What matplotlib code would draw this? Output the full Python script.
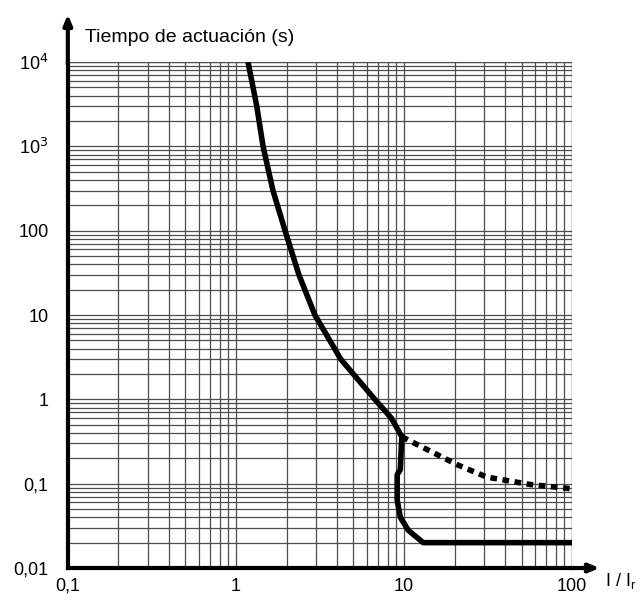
import matplotlib.pyplot as plt
from matplotlib.ticker import FixedLocator, LogLocator, NullFormatter

plt.rcParams["font.family"] = ["Liberation Sans", "DejaVu Sans"]

# curve
curve_x = [1.18, 1.33, 1.45, 1.66, 1.96, 2.37, 2.95, 4.2, 6.7, 8.4, 9.7]
curve_y = [10000, 3000, 1000, 300, 100, 30, 10, 3, 1, 0.6, 0.36]

inst_x = [9.7, 9.5, 9.1, 9.1, 9.5, 10.6, 13.0, 100]
inst_y = [0.36, 0.147, 0.128, 0.064, 0.040, 0.028, 0.020, 0.020]

dash_x = [9.7, 20.7, 31, 56, 100]
dash_y = [0.36, 0.168, 0.12, 0.098, 0.087]

x_ticks = [0.1, 1, 10, 100]
x_labels = ["0,1", "1", "10", "100"]
y_ticks = [0.01, 0.1, 1, 10, 100, 1000, 10000]
y_labels = ["0,01", "0,1", "1", "10", "100", "10$^{3}$", "10$^{4}$"]

fig = plt.figure(figsize=(6.4, 6.03), dpi=100)
ax = fig.add_axes([0.106, 0.058, 0.788, 0.839])
ax.set_xscale("log")
ax.set_yscale("log")
ax.set_xlim(0.1, 100)
ax.set_ylim(0.01, 10000)

ax.xaxis.set_major_locator(FixedLocator(x_ticks))
ax.yaxis.set_major_locator(FixedLocator(y_ticks))
ax.xaxis.set_minor_locator(LogLocator(base=10, subs=range(2, 10), numticks=20))
ax.yaxis.set_minor_locator(LogLocator(base=10, subs=range(2, 10), numticks=20))
ax.xaxis.set_minor_formatter(NullFormatter())
ax.yaxis.set_minor_formatter(NullFormatter())
ax.set_xticklabels(x_labels, fontsize=13)
ax.set_yticklabels(y_labels, fontsize=13)
ax.tick_params(which="both", length=0)
ax.tick_params(axis="x", pad=7)
ax.tick_params(axis="y", pad=14)

ax.grid(True, which="both", color="#4d4d4d", linewidth=0.9)
ax.set_axisbelow(True)

for side in ["top", "right"]:
    ax.spines[side].set_visible(False)
for side in ["left", "bottom"]:
    ax.spines[side].set_linewidth(3)

# right / top grid edge
ax.axvline(100, color="#4d4d4d", linewidth=0.9)
ax.axhline(10000, color="#4d4d4d", linewidth=0.9)

ax.plot(curve_x, curve_y, color="black", linewidth=4, solid_capstyle="butt")
ax.plot(inst_x, inst_y, color="black", linewidth=4, solid_joinstyle="round")
ax.plot(dash_x, dash_y, color="black", linewidth=4, linestyle=(0, (1.2, 1.0)))

# arrowed axes
ax.annotate("", xy=(0, 1.10), xytext=(0, 0.99), xycoords="axes fraction",
            arrowprops=dict(arrowstyle="-|>,head_length=0.6,head_width=0.25",
                            color="black", lw=3), annotation_clip=False)
ax.annotate("", xy=(1.06, 0), xytext=(0.99, 0), xycoords="axes fraction",
            arrowprops=dict(arrowstyle="-|>,head_length=0.6,head_width=0.25",
                            color="black", lw=3), annotation_clip=False)

ax.text(0.035, 1.048, "Tiempo de actuación (s)", transform=ax.transAxes,
        fontsize=14, ha="left", va="center")
ax.text(1.065, -0.005, r"I / I$_\mathregular{r}$", transform=ax.transAxes,
        fontsize=13, ha="left", va="top")

fig.savefig("out.png", dpi=100)
